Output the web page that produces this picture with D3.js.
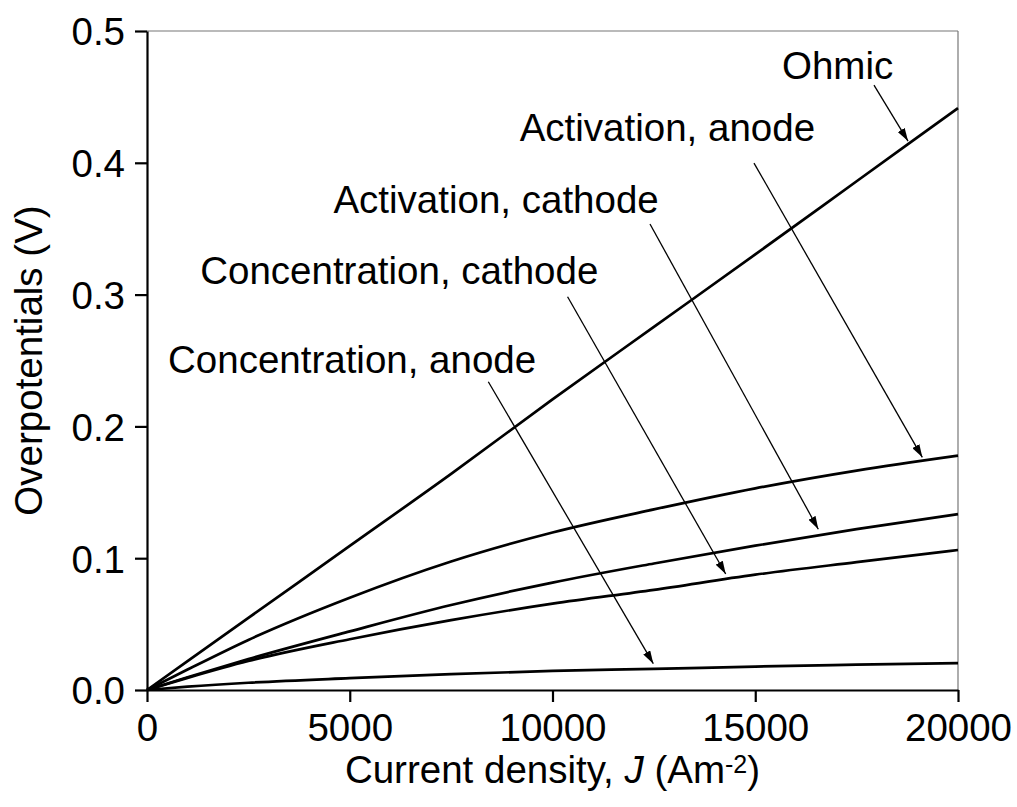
<!DOCTYPE html>
<html>
<head>
<meta charset="utf-8">
<script src="https://cdn.jsdelivr.net/npm/d3@7"></script>
<style>
  html, body { margin: 0; padding: 0; background: #fff; }
  svg { display: block; }
  text { font-family: "Liberation Sans", Arial, Helvetica, sans-serif; fill: #000; }
</style>
</head>
<body>
<svg id="chart" width="1017" height="807"></svg>
<script>
// Current density (A m^-2) sampled along each overpotential curve
const currentDensity = [0, 1000, 2500, 5000, 7500, 10000, 12500, 15000, 17500, 20000];

// Overpotentials (V)
const ohmic             = [0, 0.0219, 0.0547, 0.1093, 0.1640, 0.2205, 0.2755, 0.3305, 0.3860, 0.4415];
const activationAnode   = [0, 0.0155, 0.0380, 0.0700, 0.0975, 0.1195, 0.1370, 0.1530, 0.1665, 0.1778];
const activationCathode = [0, 0.0097, 0.0235, 0.0445, 0.0645, 0.0815, 0.0960, 0.1095, 0.1220, 0.1334];
const concCathode       = [0, 0.0092, 0.0220, 0.0385, 0.0530, 0.0655, 0.0760, 0.0875, 0.0970, 0.1062];
const concAnode         = [0, 0.0025, 0.0055, 0.0090, 0.0120, 0.0145, 0.0160, 0.0178, 0.0192, 0.0204];

const seriesList = [ohmic, activationAnode, activationCathode, concCathode, concAnode];

// Axis ticks
const xTicks = [0, 5000, 10000, 15000, 20000];
const yTicks = [0.0, 0.1, 0.2, 0.3, 0.4, 0.5];

// Curve labels with the arrow that points from each label to its curve (data units)
const labelNames  = ["Ohmic", "Activation, anode", "Activation, cathode", "Concentration, cathode", "Concentration, anode"];
const labelAt     = [[15660, 0.4636], [9191, 0.4165], [4597, 0.3617], [1312, 0.3080], [518, 0.2407]];
const arrowFrom   = [[17928, 0.4590], [14969, 0.3998], [12404, 0.3536], [10372, 0.2984], [8417, 0.2339]];
const arrowTo     = [[18767, 0.4165], [19120, 0.1765], [16555, 0.1220], [14271, 0.0880], [12486, 0.0200]];

const svg = d3.select("#chart");
const plotLeft = 147, plotRight = 958, plotTop = 31, plotBottom = 690;
const FS = 38.5;

const x = d3.scaleLinear().domain([0, 20000]).range([plotLeft, plotRight]);
const y = d3.scaleLinear().domain([0, 0.5]).range([plotBottom, plotTop]);

// Frame: thin grey top and right edges
svg.append("line").attr("x1", plotLeft).attr("x2", plotRight).attr("y1", plotTop).attr("y2", plotTop)
  .attr("stroke", "#777").attr("stroke-width", 1.2);
svg.append("line").attr("x1", plotRight).attr("x2", plotRight).attr("y1", plotTop).attr("y2", plotBottom)
  .attr("stroke", "#777").attr("stroke-width", 1.2);

// Curves
const line = d3.line()
  .x((d, i) => x(currentDensity[i]))
  .y(d => y(d))
  .curve(d3.curveMonotoneX);

svg.append("g").selectAll("path").data(seriesList).join("path")
  .attr("d", d => line(d))
  .attr("fill", "none")
  .attr("stroke", "#000")
  .attr("stroke-width", 2.7)
  .attr("stroke-linejoin", "round");

// Axes
const xAxis = d3.axisBottom(x).tickValues(xTicks).tickFormat(d3.format("d"))
  .tickSize(12).tickSizeOuter(0).tickPadding(12);
const yAxis = d3.axisLeft(y).tickValues(yTicks).tickFormat(d3.format(".1f"))
  .tickSize(12).tickSizeOuter(0).tickPadding(10);

const gx = svg.append("g").attr("transform", `translate(0,${plotBottom})`).call(xAxis);
const gy = svg.append("g").attr("transform", `translate(${plotLeft},0)`).call(yAxis);

[gx, gy].forEach(g => {
  g.select(".domain").attr("stroke", "#000").attr("stroke-width", 2.2);
  g.selectAll(".tick line").attr("stroke", "#000").attr("stroke-width", 2.2);
  g.selectAll(".tick text").attr("font-size", FS)
    .attr("font-family", "'Liberation Sans', Arial, sans-serif").attr("fill", "#000");
});
gx.selectAll(".tick text").attr("dy", "0.71em");
gy.selectAll(".tick text").attr("dy", "0.36em");

// Axis titles
const xt = svg.append("text")
  .attr("x", (plotLeft + plotRight) / 2).attr("y", 783)
  .attr("text-anchor", "middle").attr("font-size", FS);
xt.append("tspan").text("Current density, ");
xt.append("tspan").attr("font-style", "italic").text("J");
xt.append("tspan").text(" (Am");
xt.append("tspan").attr("font-size", 25).attr("dy", -10).text("-2");
xt.append("tspan").attr("dy", 10).text(")");

svg.append("text")
  .attr("transform", `translate(42,${(plotTop + plotBottom) / 2}) rotate(-90)`)
  .attr("text-anchor", "middle").attr("font-size", FS)
  .text("Overpotentials (V)");

// Arrowhead
svg.append("defs").append("marker")
  .attr("id", "head")
  .attr("markerUnits", "userSpaceOnUse")
  .attr("viewBox", "0 0 13 8")
  .attr("markerWidth", 13).attr("markerHeight", 8)
  .attr("refX", 13).attr("refY", 4)
  .attr("orient", "auto")
  .append("path").attr("d", "M0,0 L13,4 L0,8 Z").attr("fill", "#000");

// Labels and arrows
const ann = svg.append("g");
labelNames.forEach((name, i) => {
  ann.append("text")
    .attr("x", x(labelAt[i][0])).attr("y", y(labelAt[i][1]))
    .attr("font-size", FS).text(name);
  ann.append("line")
    .attr("x1", x(arrowFrom[i][0])).attr("y1", y(arrowFrom[i][1]))
    .attr("x2", x(arrowTo[i][0])).attr("y2", y(arrowTo[i][1]))
    .attr("stroke", "#000").attr("stroke-width", 1.3)
    .attr("marker-end", "url(#head)");
});
</script>
</body>
</html>
